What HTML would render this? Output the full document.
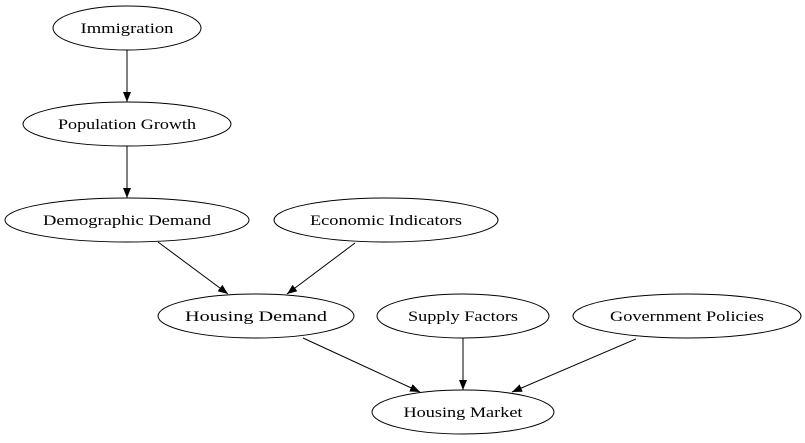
<!DOCTYPE html>
<html><head><style>body{margin:0;background:#fff}svg{display:block}text{font-family:"Liberation Serif",serif;font-size:15px;text-anchor:middle}</style></head><body>
<svg width="805" height="443" viewBox="0 0 805 443">
<defs><marker id="a" markerWidth="10" markerHeight="8" refX="10" refY="4" orient="auto" markerUnits="userSpaceOnUse"><path d="M0,0L10,4L0,8z" fill="#000"/></marker></defs>
<g fill="none" stroke="#000" stroke-width="1">
<ellipse cx="127" cy="28" rx="74" ry="22"/>
<ellipse cx="127" cy="124" rx="104" ry="22"/>
<ellipse cx="127" cy="220" rx="122" ry="22"/>
<ellipse cx="386" cy="220" rx="112" ry="22"/>
<ellipse cx="256" cy="316" rx="98" ry="22"/>
<ellipse cx="463" cy="316" rx="86" ry="22"/>
<ellipse cx="687" cy="316" rx="114" ry="22"/>
<ellipse cx="463" cy="412" rx="91" ry="22"/>
<line x1="127" y1="50" x2="127" y2="102" marker-end="url(#a)"/>
<line x1="127" y1="146" x2="127" y2="198" marker-end="url(#a)"/>
<line x1="158" y1="242" x2="228" y2="294" marker-end="url(#a)"/>
<line x1="355" y1="243" x2="287" y2="294" marker-end="url(#a)"/>
<line x1="303" y1="338" x2="420" y2="392" marker-end="url(#a)"/>
<line x1="463" y1="338" x2="463" y2="390" marker-end="url(#a)"/>
<line x1="636" y1="339" x2="512" y2="392" marker-end="url(#a)"/>
</g>
<text x="127" y="33" textLength="93" lengthAdjust="spacingAndGlyphs">Immigration</text>
<text x="127" y="129" textLength="138" lengthAdjust="spacingAndGlyphs">Population Growth</text>
<text x="127" y="225" textLength="168" lengthAdjust="spacingAndGlyphs">Demographic Demand</text>
<text x="386" y="225" textLength="152" lengthAdjust="spacingAndGlyphs">Economic Indicators</text>
<text x="256" y="321" textLength="142" lengthAdjust="spacingAndGlyphs">Housing Demand</text>
<text x="463" y="321" textLength="110" lengthAdjust="spacingAndGlyphs">Supply Factors</text>
<text x="687" y="321" textLength="154" lengthAdjust="spacingAndGlyphs">Government Policies</text>
<text x="463" y="417" textLength="119" lengthAdjust="spacingAndGlyphs">Housing Market</text>
</svg></body></html>
